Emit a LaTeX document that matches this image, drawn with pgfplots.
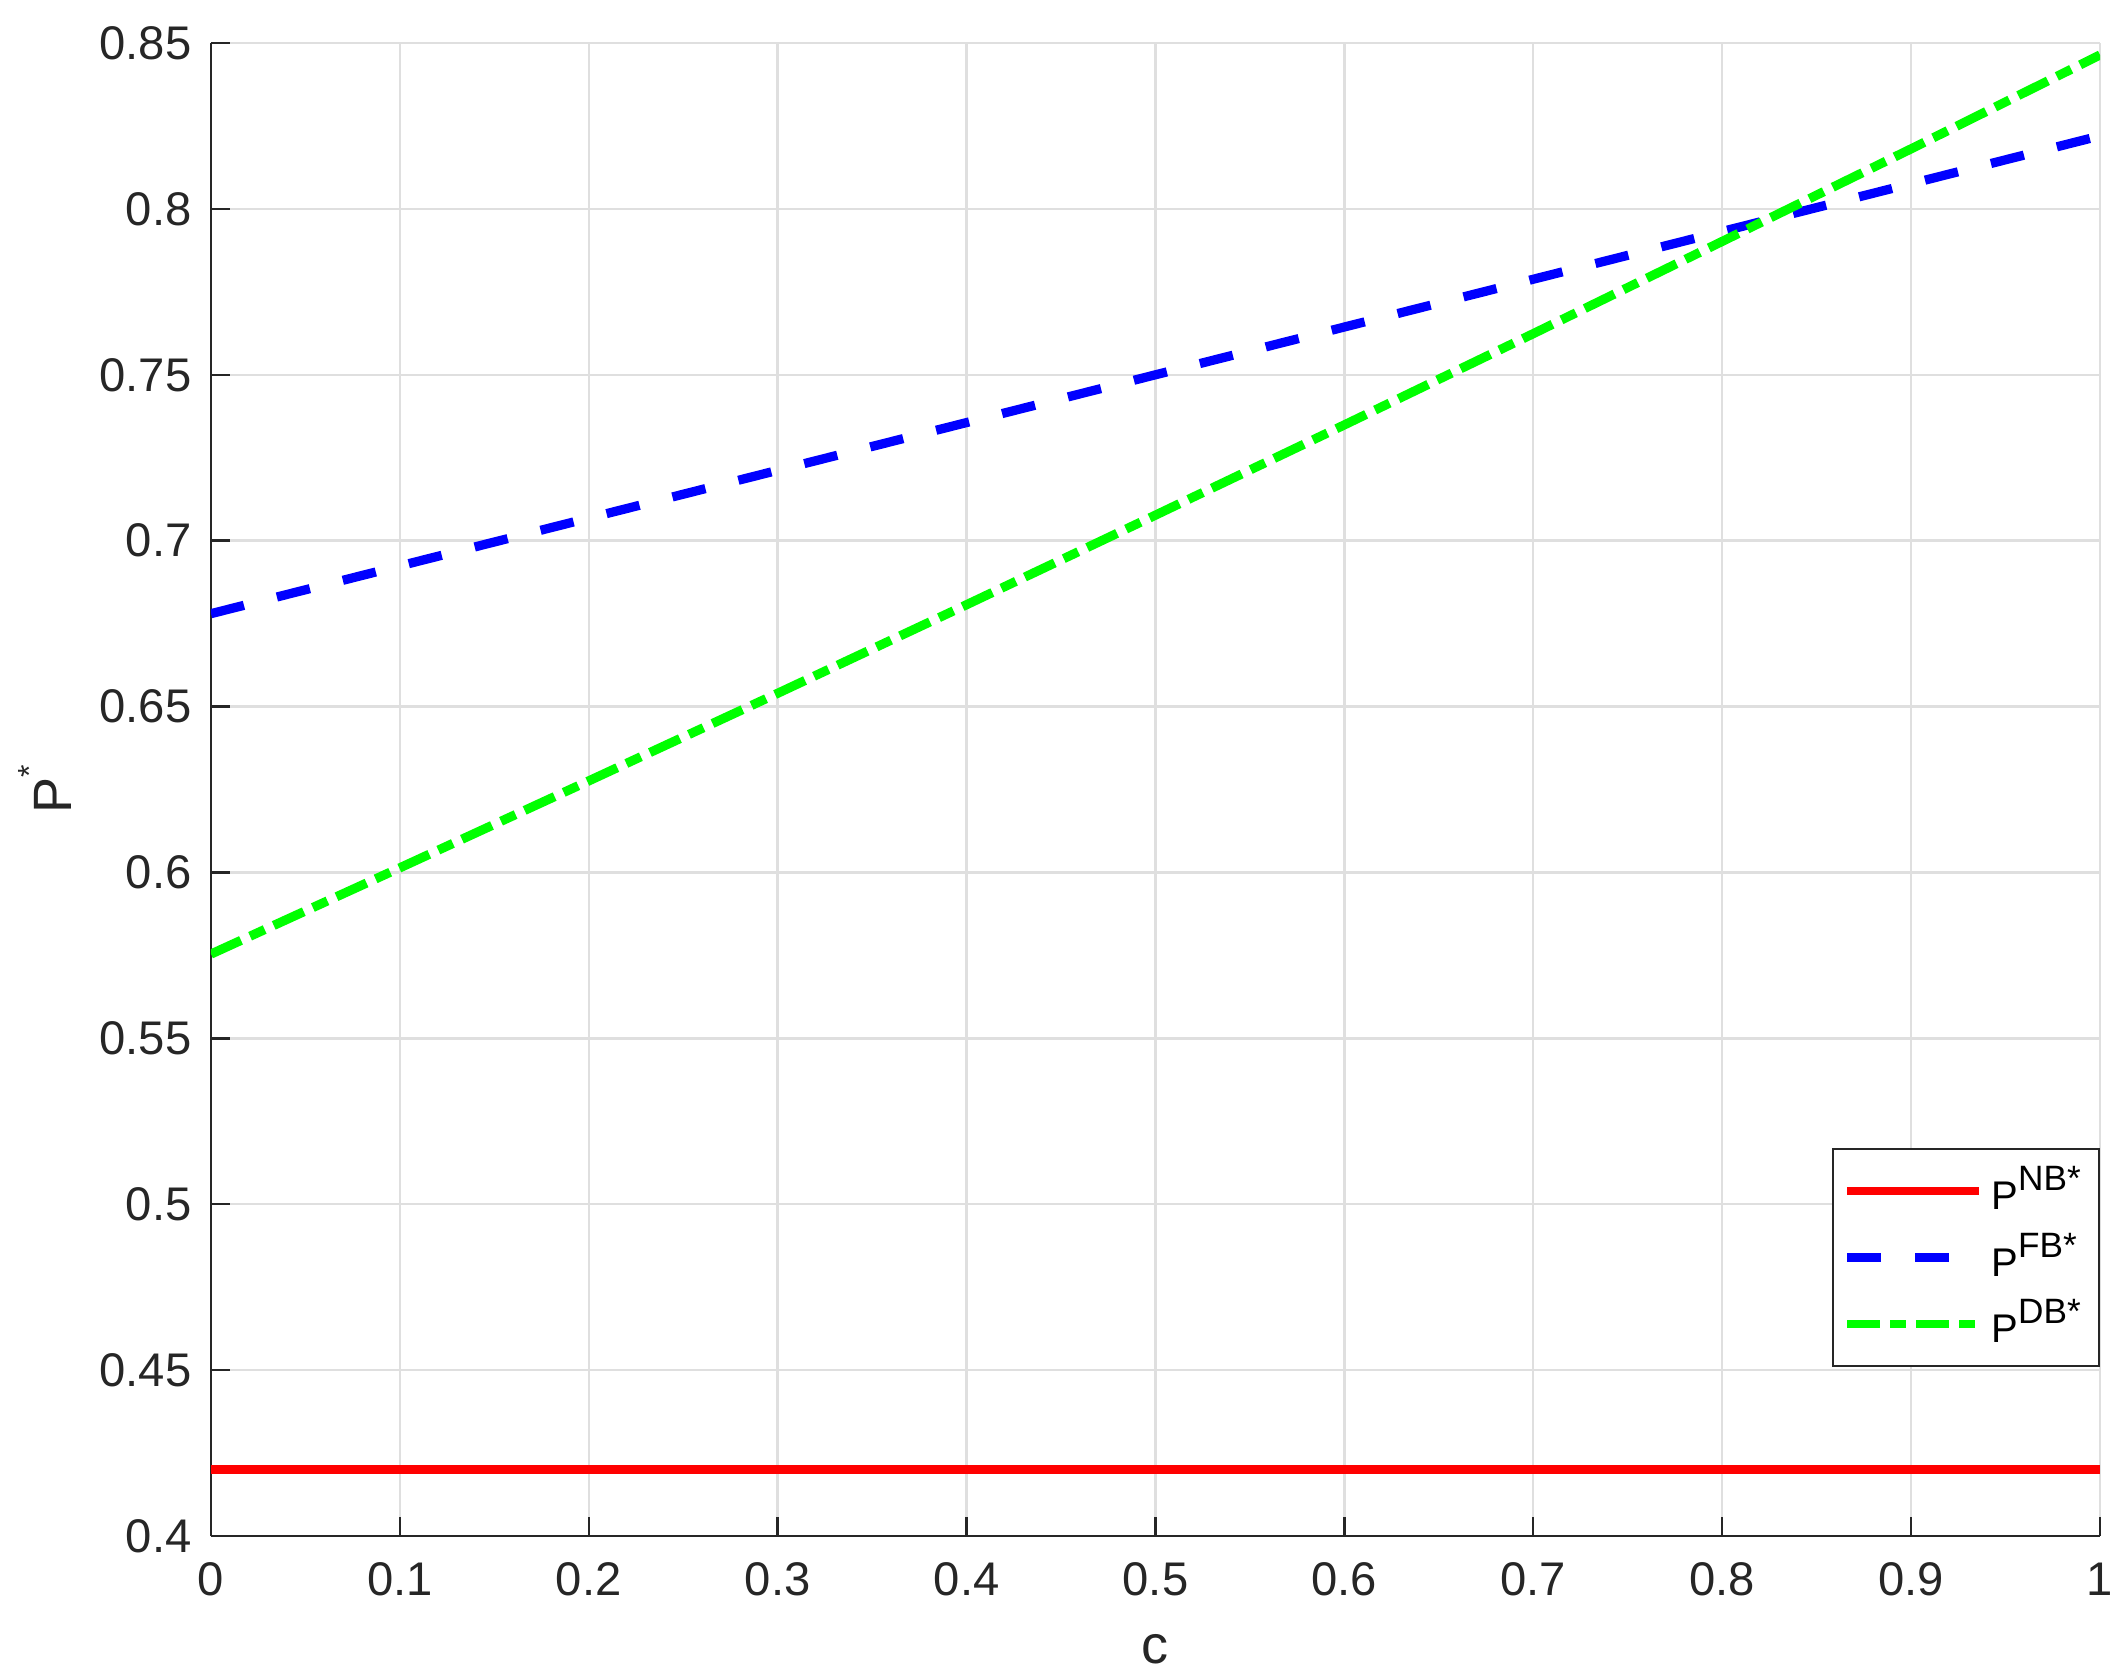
\documentclass[border=0pt]{standalone}
\usepackage{fontspec}
\setmainfont{Liberation Sans}
\usepackage{pgfplots}
\pgfplotsset{compat=1.18}
\definecolor{axgray}{RGB}{38,38,38}
\definecolor{gridgray}{RGB}{223,223,223}
\newcommand{\sups}[1]{\raisebox{4.8pt}{\fontsize{8.8pt}{9pt}\selectfont #1}}
\begin{document}
\begin{tikzpicture}
\useasboundingbox (-52.75pt,-34.5pt) rectangle (478.25pt,384pt);
\begin{axis}[
  scale only axis, width=472.25pt, height=373.25pt,
  xmin=0, xmax=1, ymin=0.4, ymax=0.85,
  xtick={0,0.1,0.2,0.3,0.4,0.5,0.6,0.7,0.8,0.9,1},
  ytick={0.4,0.45,0.5,0.55,0.6,0.65,0.7,0.75,0.8,0.85},
  yticklabels={0.4,0.45,0.5,0.55,0.6,0.65,0.7,0.75,0.8,0.85},
  xticklabels={0,0.1,0.2,0.3,0.4,0.5,0.6,0.7,0.8,0.9,1},
  grid=major, major grid style={gridgray, line width=0.6pt},
  axis lines=left, axis line style={-, axgray, line width=0.6pt},
  tick style={axgray, line width=0.6pt}, major tick length=4.7pt, tick align=inside,
  ticklabel style={font=\fontsize{11.8pt}{13pt}\selectfont, text=axgray},
  /pgf/number format/assume math mode=true,
  xticklabel style={yshift=-3.1pt},
  yticklabel style={xshift=-1.35pt},
  xlabel={c},
  xlabel style={at={(axis description cs:0.5,0)}, anchor=base, yshift=-31.75pt,
                font=\fontsize{13.5pt}{15pt}\selectfont, text=axgray},
  ylabel={P\raisebox{7.8pt}{\fontsize{8pt}{9pt}\selectfont *}},
  ylabel style={at={(axis description cs:-0.0879,0.5)}, anchor=center,
                font=\fontsize{13.5pt}{15pt}\selectfont, text=axgray},
  legend style={at={(rel axis cs:1,0.113)}, anchor=south east, draw=axgray,
                line width=0.6pt, fill=white, font=\fontsize{10pt}{11pt}\selectfont,
                inner xsep=2.5pt, inner ysep=2.3pt, row sep=0.3pt},
  legend cell align=left,
  legend image code/.code={\draw[#1, line width=2.1pt] (0pt,0pt) -- (33pt,0pt);},
]
\addplot[red, line width=2.3pt] coordinates {(0,0.42) (1,0.42)};
\addlegendentry{P\sups{NB*}}
\addplot[blue, line width=2.3pt, dash pattern=on 8.5pt off 8.5pt] coordinates {
(0,0.678) (0.1,0.6924) (0.2,0.7068) (0.3,0.7212) (0.4,0.7356) (0.5,0.750)
(0.6,0.7644) (0.7,0.7788) (0.8,0.7932) (0.9,0.8076) (1,0.822)};
\addlegendentry{P\sups{FB*}}
\addplot[green, line width=2.3pt, dash pattern=on 8.25pt off 2.5pt on 4pt off 2.5pt] coordinates {
(0,0.5754) (0.1,0.6014) (0.2,0.6276) (0.3,0.6540) (0.4,0.6807) (0.5,0.7077)
(0.6,0.7349) (0.7,0.7624) (0.8,0.7902) (0.9,0.8181) (1,0.8464)};
\addlegendentry{P\sups{DB*}}
\end{axis}
\end{tikzpicture}
\end{document}
